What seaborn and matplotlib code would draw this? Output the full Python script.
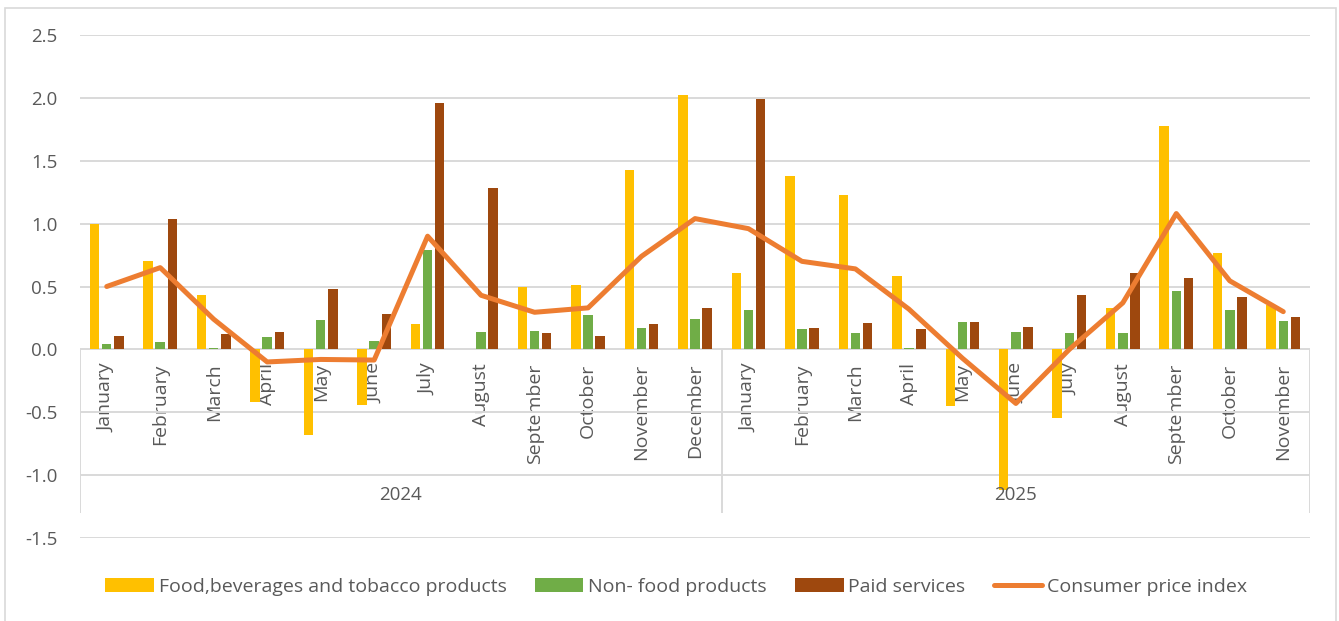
import numpy as np
import pandas as pd
import matplotlib
matplotlib.use('Agg')
import matplotlib.pyplot as plt
import seaborn as sns

# monthly change, %
months = ['January', 'February', 'March', 'April', 'May', 'June', 'July',
          'August', 'September', 'October', 'November', 'December',
          'January', 'February', 'March', 'April', 'May', 'June', 'July',
          'August', 'September', 'October', 'November']
years = ['2024'] * 12 + ['2025'] * 11

food = [1.00, 0.70, 0.43, -0.42, -0.68, -0.44, 0.20, 0.00, 0.50, 0.515, 1.43, 2.02,
        0.61, 1.38, 1.23, 0.58, -0.45, -1.12, -0.545, 0.33, 1.78, 0.77, 0.35]
nonfood = [0.04, 0.06, 0.01, 0.10, 0.23, 0.07, 0.79, 0.14, 0.146, 0.27, 0.17, 0.24,
           0.31, 0.16, 0.13, 0.01, 0.215, 0.14, 0.13, 0.13, 0.465, 0.31, 0.225]
paid = [0.11, 1.04, 0.12, 0.14, 0.48, 0.28, 1.96, 1.28, 0.13, 0.11, 0.20, 0.33,
        1.99, 0.17, 0.21, 0.16, 0.215, 0.175, 0.43, 0.61, 0.565, 0.42, 0.26]
cpi = [0.50, 0.65, 0.24, -0.10, -0.08, -0.085, 0.90, 0.43, 0.295, 0.33, 0.74, 1.04,
       0.96, 0.70, 0.64, 0.32, -0.07, -0.43, 0.00, 0.37, 1.08, 0.545, 0.30]

groups = ['Food,beverages and tobacco products', 'Non- food products', 'Paid services']
colors = ['#FFC000', '#70AD47', '#9E480E']
text_col = '#595959'
grid_col = '#d9d9d9'

periods = [f'{y}-{m}' for y, m in zip(years, months)]
df = pd.DataFrame({'period': periods, groups[0]: food, groups[1]: nonfood, groups[2]: paid})
df = df.melt(id_vars='period', var_name='group', value_name='value')

sns.set_style('white')
plt.rcParams['font.family'] = ['Open Sans', 'DejaVu Sans']

fig = plt.figure(figsize=(13.39, 6.21), dpi=100)
ax = fig.add_axes([80 / 1339, 1 - 538 / 621, 1230 / 1339, 503 / 621])

sns.barplot(data=df, x='period', y='value', hue='group', order=periods,
            hue_order=groups, palette=colors, saturation=1, width=0.68, gap=0.22,
            errorbar=None, linewidth=0, ax=ax)
sns.lineplot(x=np.arange(len(cpi)), y=cpi, color='#ED7D31', lw=3.6,
             label='Consumer price index', ax=ax, zorder=5)

ax.set_xlim(-0.5, len(periods) - 0.5)
ax.set_ylim(-1.5, 2.5)
yt = np.arange(-1.5, 2.51, 0.5)
ax.set_yticks(yt)
ax.set_yticklabels([f'{v:.1f}' for v in yt])
ax.yaxis.grid(True, color=grid_col, lw=1.4)
ax.set_axisbelow(True)
for s in ax.spines.values():
    s.set_visible(False)
ax.spines['bottom'].set_position(('data', 0))
ax.set_xticks(np.arange(len(periods)))
ax.set_xticklabels(months, rotation=90)
ax.tick_params(axis='x', length=0, pad=10, labelsize=14, labelcolor=text_col)
ax.tick_params(axis='y', length=0, pad=16, labelsize=13.5, labelcolor=text_col)
ax.set_xlabel('')
ax.set_ylabel('')

# year axis
ax.vlines([-0.5, 11.5, len(periods) - 0.5], -1.3, 0, color=grid_col, lw=1.4, zorder=0)
ax.text(5.5, -1.16, '2024', ha='center', va='center', fontsize=13.5, color=text_col)
ax.text(17, -1.16, '2025', ha='center', va='center', fontsize=13.5, color=text_col)

h, l = ax.get_legend_handles_labels()
ax.legend(h, l, loc='center', bbox_to_anchor=(0.505, 1 - 587 / 621),
          bbox_transform=fig.transFigure, ncol=4, frameon=False, fontsize=14,
          handlelength=2.5, handleheight=0.7, handletextpad=0.25, columnspacing=1.45,
          labelcolor=text_col)

fig.add_artist(plt.Rectangle((5 / 1339, -0.02), 1331 / 1339, 1.007, transform=fig.transFigure,
                             fill=False, edgecolor=grid_col, lw=1.2))

fig.savefig('out.png', dpi=100)
